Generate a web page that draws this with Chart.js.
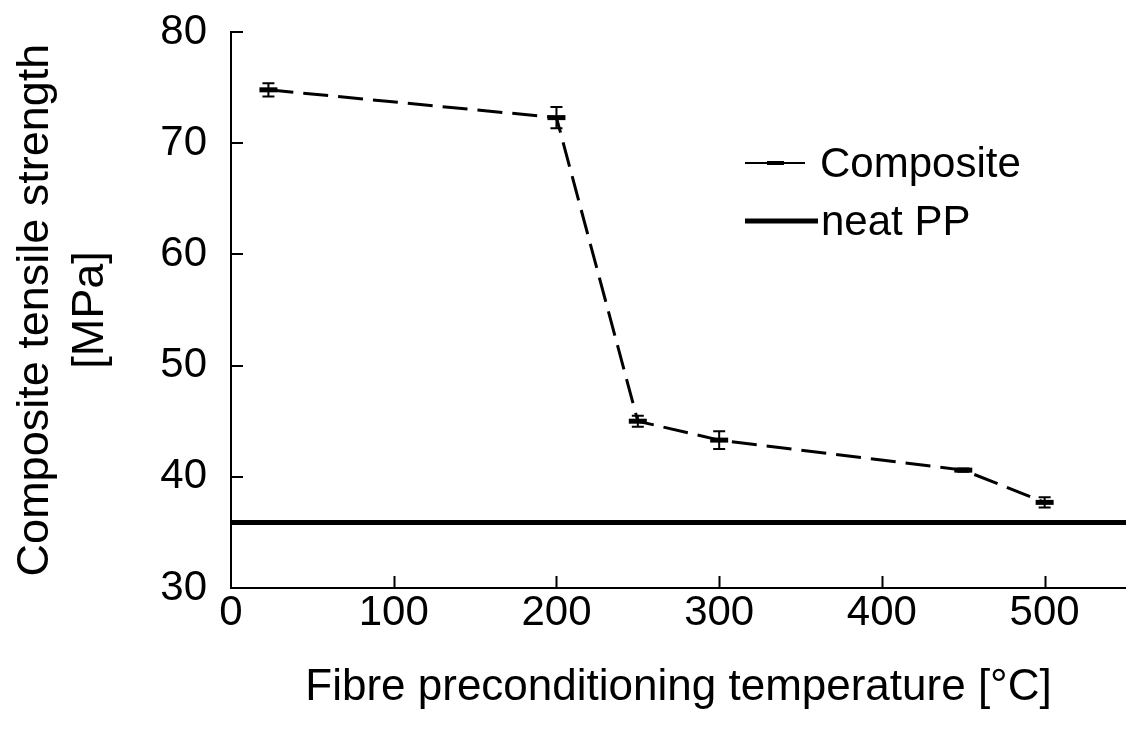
<!DOCTYPE html>
<html>
<head>
<meta charset="utf-8">
<script src="https://cdn.jsdelivr.net/npm/chart.js@4.4.0/dist/chart.umd.min.js"></script>
<style>
  html, body { margin: 0; padding: 0; background: #fff; }
  #wrap { width: 1126px; height: 740px; }
</style>
</head>
<body>
<div id="wrap"><canvas id="tensile-chart"></canvas></div>
<script>
//Chart Data
const tempC = [23, 200, 250, 300, 450, 500];
const strength = [74.8, 72.3, 45.0, 43.3, 40.6, 37.7];
const strengthErr = [0.6, 0.95, 0.5, 0.8, 0.15, 0.45];
const neatPP = 35.9;
const xTicks = [0, 100, 200, 300, 400, 500];
const yTicks = [30, 40, 50, 60, 70, 80];
const seriesNames = ['Composite', 'neat PP'];

const FONT = '"Liberation Sans", Arial, sans-serif';

//Error bars drawn with the library's scales
const errorBars = {
    id: 'errorBars',
    afterDatasetsDraw(chart) {
        const ctx = chart.ctx;
        const xs = chart.scales.x, ys = chart.scales.y;
        ctx.save();
        ctx.strokeStyle = '#000';
        ctx.lineWidth = 2;
        ctx.setLineDash([]);
        tempC.forEach((t, i) => {
            const px = xs.getPixelForValue(t);
            const top = ys.getPixelForValue(strength[i] + strengthErr[i]);
            const bot = ys.getPixelForValue(strength[i] - strengthErr[i]);
            ctx.beginPath();
            ctx.moveTo(px, top); ctx.lineTo(px, bot);
            ctx.moveTo(px - 6, top); ctx.lineTo(px + 6, top);
            ctx.moveTo(px - 6, bot); ctx.lineTo(px + 6, bot);
            ctx.stroke();
        });
        ctx.restore();
    }
};

//Inward tick marks
const innerTicks = {
    id: 'innerTicks',
    afterDraw(chart) {
        const ctx = chart.ctx;
        const xs = chart.scales.x, ys = chart.scales.y;
        const area = chart.chartArea;
        ctx.save();
        ctx.strokeStyle = '#000';
        ctx.lineWidth = 2;
        ctx.beginPath();
        xTicks.slice(1).forEach(v => {
            const px = Math.round(xs.getPixelForValue(v)) + 0.5;
            ctx.moveTo(px, area.bottom);
            ctx.lineTo(px, area.bottom - 12);
        });
        yTicks.slice(1).forEach(v => {
            const py = Math.round(ys.getPixelForValue(v));
            ctx.moveTo(area.left, py);
            ctx.lineTo(area.left + 12, py);
        });
        ctx.stroke();
        ctx.restore();
    }
};

//Legend with line samples
const lineLegend = {
    id: 'lineLegend',
    afterDraw(chart) {
        const ctx = chart.ctx;
        ctx.save();
        ctx.fillStyle = '#000';
        ctx.strokeStyle = '#000';
        ctx.font = '42px ' + FONT;
        ctx.textBaseline = 'middle';
        // Composite
        ctx.lineWidth = 2;
        ctx.beginPath();
        ctx.moveTo(745, 163); ctx.lineTo(805, 163);
        ctx.stroke();
        ctx.lineWidth = 4;
        ctx.beginPath();
        ctx.moveTo(767, 163); ctx.lineTo(784, 163);
        ctx.stroke();
        ctx.fillText(seriesNames[0], 820, 165);
        // neat PP
        ctx.lineWidth = 5;
        ctx.beginPath();
        ctx.moveTo(745, 221); ctx.lineTo(818, 221);
        ctx.stroke();
        ctx.fillText(seriesNames[1], 821, 223);
        ctx.restore();
    }
};

function createChart() {
    const ctx = document.getElementById('tensile-chart').getContext('2d');
    return new Chart(ctx, {
        type: 'scatter',
        data: {
            datasets: [{
                label: seriesNames[0],
                data: tempC.map((t, i) => ({ x: t, y: strength[i] })),
                showLine: true,
                borderColor: '#000',
                backgroundColor: '#000',
                borderWidth: 3,
                borderDash: [25, 10],
                pointStyle: 'line',
                pointRadius: 9,
                pointBorderWidth: 5,
                pointBorderColor: '#000',
            }, {
                label: seriesNames[1],
                data: [{ x: 0, y: neatPP }, { x: 550, y: neatPP }],
                showLine: true,
                borderColor: '#000',
                borderWidth: 5,
                pointRadius: 0,
            }]
        },
        options: {
            responsive: false,
            animation: false,
            events: [],
            layout: { autoPadding: false, padding: { top: 32, right: 0, left: 0, bottom: 0 } },
            plugins: {
                legend: { display: false },
                tooltip: { enabled: false },
            },
            scales: {
                x: {
                    type: 'linear',
                    min: 0,
                    max: 550,
                    afterBuildTicks: s => { s.ticks = xTicks.map(v => ({ value: v })); },
                    afterFit: s => { s.height = 152; s.paddingLeft = 0; s.paddingRight = 0; },
                    grid: { display: true, drawOnChartArea: false, drawTicks: false },
                    border: { display: true, color: '#000', width: 2 },
                    ticks: { color: '#000', font: { family: FONT, size: 42 }, padding: 0, maxRotation: 0 },
                    title: {
                        display: true,
                        text: 'Fibre preconditioning temperature [°C]',
                        color: '#000',
                        font: { family: FONT, size: 44 },
                        padding: { top: 0, bottom: 26 },
                    }
                },
                y: {
                    min: 30,
                    max: 80,
                    afterBuildTicks: s => { s.ticks = yTicks.map(v => ({ value: v })); },
                    afterFit: s => { s.width = 231; s.paddingTop = 0; s.paddingBottom = 0; },
                    grid: { display: true, drawOnChartArea: false, drawTicks: false },
                    border: { display: true, color: '#000', width: 2 },
                    ticks: { color: '#000', font: { family: FONT, size: 42 }, padding: 24 },
                    title: {
                        display: true,
                        text: ['Composite tensile strength', '[MPa]'],
                        color: '#000',
                        font: { family: FONT, size: 45, lineHeight: 1.22 },
                        padding: { top: 8, bottom: 0 },
                    }
                }
            }
        },
        plugins: [errorBars, innerTicks, lineLegend]
    });
}

window.addEventListener('DOMContentLoaded', () => {
    const c = document.getElementById('tensile-chart');
    c.width = 1126; c.height = 740;
    createChart();
});
</script>
</body>
</html>
